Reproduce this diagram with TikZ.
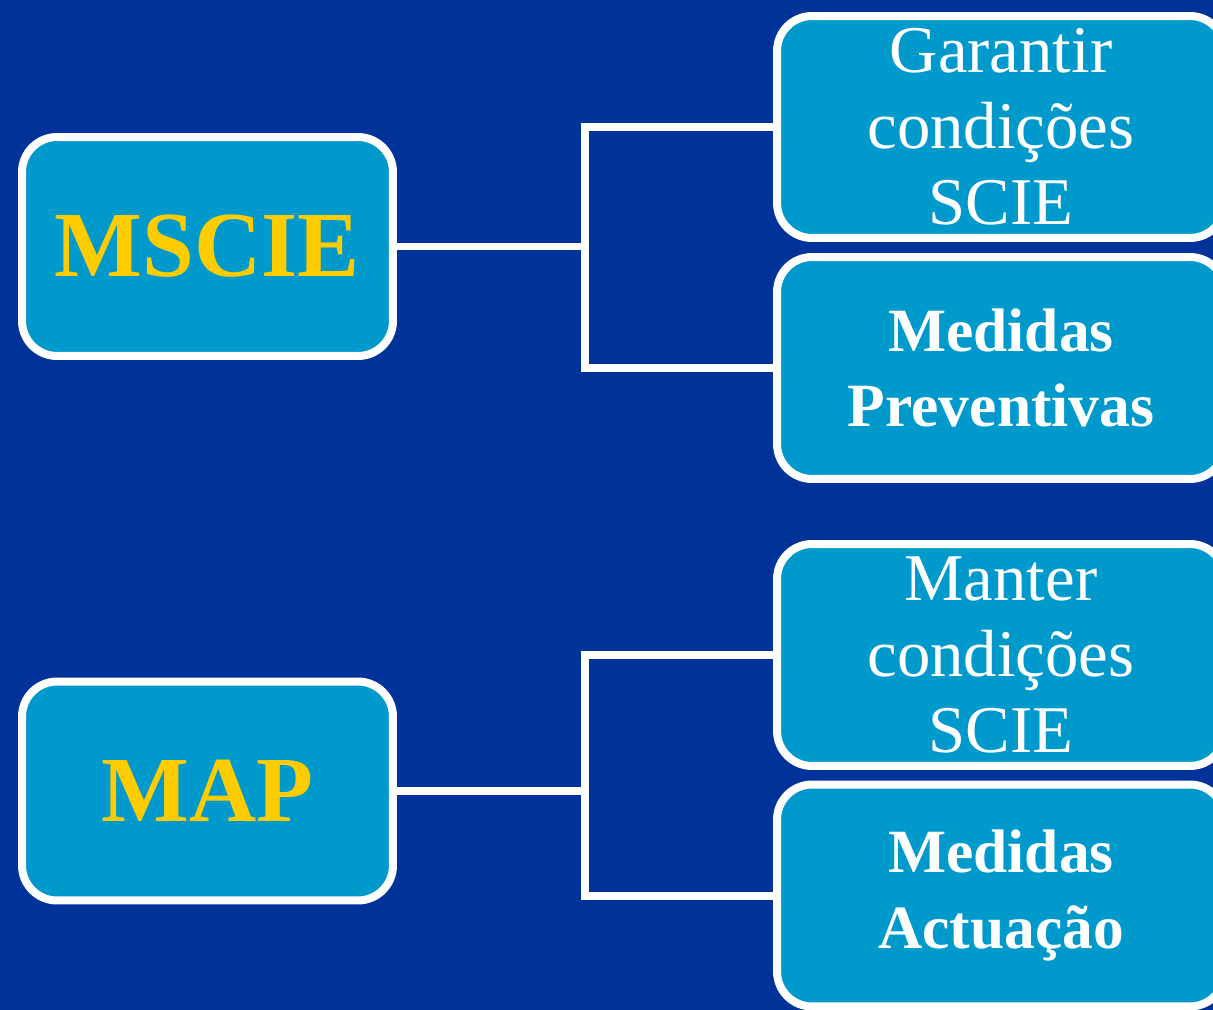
\documentclass[tikz,border=0pt]{standalone}
\usepackage{fontspec}
\setmainfont{Liberation Serif}
\usetikzlibrary{positioning}
\definecolor{bgblue}{RGB}{0,51,153}
\definecolor{boxblue}{RGB}{0,153,204}
\definecolor{goldtxt}{RGB}{255,204,0}

\begin{document}
\begin{tikzpicture}[x=0.02cm, y=-0.02cm, line width=0.16cm,
  mainbox/.style={draw=white, fill=boxblue, rounded corners=0.7cm, minimum width=7.42cm, minimum height=4.38cm, inner sep=0pt, outer sep=0pt, text=goldtxt, font=\bfseries\fontsize{53}{60}\selectfont},
  subbox/.style={draw=white, fill=boxblue, rounded corners=0.7cm, minimum width=8.96cm, minimum height=4.44cm, inner sep=0pt, outer sep=0pt, text=white, align=center, font=\bfseries\fontsize{35}{43.2}\selectfont},
  lightbox/.style={subbox, font=\fontsize{38}{43.2}\selectfont},
  conn/.style={draw=white, line width=0.16cm}]
  \useasboundingbox (0,0) rectangle (1213,1010);
  \fill[bgblue] (0,0) rectangle (1213,1010);
  % left side
  \node[mainbox] (mscie) at (207.5,246.5) {MSCIE};
  \node[mainbox] (map) at (207.5,791) {MAP};
  % right side
  \node[lightbox] (gar) at (1001,127) {Garantir\\condições\\SCIE};
  \node[subbox] (prev) at (1001,368) {Medidas\\Preventivas};
  \node[lightbox] (man) at (1001,655) {Manter\\condições\\SCIE};
  \node[subbox] (act) at (1001,895.5) {Medidas\\Actuação};
  % connectors
  \draw[conn] (mscie.east) -- ++(192,0) coordinate (f1);
  \draw[conn] (gar.west) -| (f1) |- (prev.west);
  \draw[conn] (map.east) -- ++(192,0) coordinate (f2);
  \draw[conn] (man.west) -| (f2) |- (act.west);
\end{tikzpicture}
\end{document}
